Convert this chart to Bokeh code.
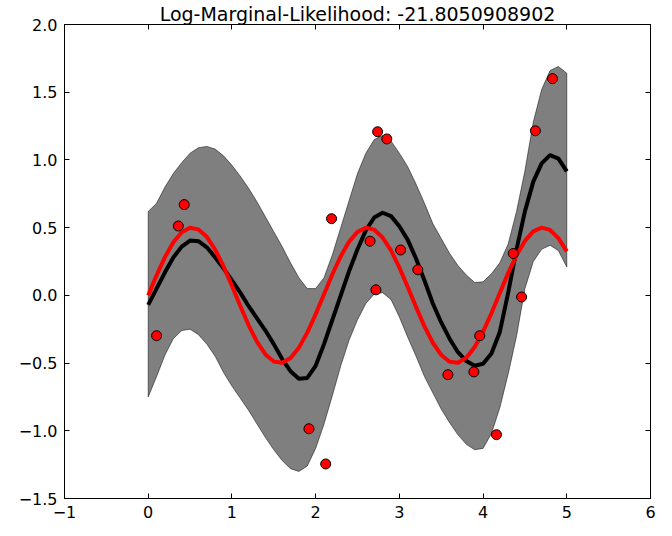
from bokeh.plotting import figure
from bokeh.models import Range1d, LinearAxis, FixedTicker, CustomJSTickFormatter
from bokeh.embed import file_html
from bokeh.resources import INLINE

# ---- data ----
grid_x = [0.0, 0.1, 0.2, 0.3, 0.4, 0.5, 0.6, 0.7, 0.8, 0.9,
          1.0, 1.1, 1.2, 1.3, 1.4, 1.5, 1.6, 1.7, 1.8, 1.9,
          2.0, 2.1, 2.2, 2.3, 2.4, 2.5, 2.6, 2.7, 2.8, 2.9,
          3.0, 3.1, 3.2, 3.3, 3.4, 3.5, 3.6, 3.7, 3.8, 3.9,
          4.0, 4.1, 4.2, 4.3, 4.4, 4.5, 4.6, 4.7, 4.8, 4.9, 5.0]

mean_y = [-0.07, 0.05, 0.17, 0.28, 0.36, 0.405, 0.40, 0.355, 0.28, 0.20,
          0.11, 0.02, -0.08, -0.17, -0.26, -0.36, -0.47, -0.56, -0.615, -0.61,
          -0.52, -0.36, -0.18, 0.00, 0.18, 0.34, 0.48, 0.575, 0.61, 0.585,
          0.51, 0.41, 0.27, 0.11, -0.06, -0.20, -0.32, -0.42, -0.485, -0.52,
          -0.505, -0.43, -0.27, 0.02, 0.34, 0.62, 0.84, 0.975, 1.035, 1.01, 0.915]

upper_y = [0.62, 0.68, 0.80, 0.90, 0.98, 1.05, 1.09, 1.10, 1.08, 1.03,
           0.96, 0.88, 0.79, 0.69, 0.58, 0.47, 0.36, 0.24, 0.13, 0.05,
           0.05, 0.13, 0.30, 0.50, 0.70, 0.90, 1.05, 1.15, 1.18, 1.14,
           1.05, 0.95, 0.82, 0.68, 0.53, 0.42, 0.31, 0.22, 0.15, 0.095,
           0.10, 0.16, 0.24, 0.38, 0.62, 0.92, 1.28, 1.52, 1.66, 1.69, 1.64]

lower_y = [-0.75, -0.60, -0.44, -0.32, -0.26, -0.25, -0.29, -0.36, -0.45, -0.57,
           -0.67, -0.76, -0.85, -0.95, -1.05, -1.14, -1.22, -1.28, -1.30, -1.26,
           -1.13, -0.95, -0.74, -0.52, -0.33, -0.18, -0.06, 0.01, 0.02, -0.03,
           -0.16, -0.31, -0.45, -0.60, -0.72, -0.84, -0.94, -1.03, -1.10, -1.14,
           -1.13, -1.02, -0.83, -0.58, -0.30, 0.05, 0.25, 0.34, 0.37, 0.33, 0.21]

true_y = [0.000, 0.148, 0.282, 0.392, 0.466, 0.499, 0.487, 0.432, 0.338, 0.214,
          0.071, -0.079, -0.221, -0.344, -0.436, -0.489, -0.498, -0.463, -0.386, -0.275,
          -0.140, 0.008, 0.156, 0.289, 0.397, 0.469, 0.499, 0.485, 0.427, 0.332,
          0.206, 0.062, -0.087, -0.229, -0.350, -0.440, -0.490, -0.497, -0.460, -0.381,
          -0.268, -0.132, 0.017, 0.164, 0.296, 0.402, 0.472, 0.500, 0.483, 0.423, 0.325]

obs_x = [0.10, 0.36, 0.43, 1.92, 2.12, 2.19, 2.65, 2.72, 2.74, 2.85,
         3.015, 3.22, 3.58, 3.89, 3.96, 4.36, 4.16, 4.46, 4.625, 4.83]
obs_y = [-0.298, 0.512, 0.670, -0.985, -1.245, 0.566, 0.400, 0.041, 1.208, 1.155,
         0.335, 0.189, -0.586, -0.565, -0.298, 0.309, -1.029, -0.012, 1.215, 1.600]

x_ticks = [-1, 0, 1, 2, 3, 4, 5, 6]
x_tick_labels = ["\u22121", "0", "1", "2", "3", "4", "5", "6"]
y_ticks = [-1.5, -1.0, -0.5, 0.0, 0.5, 1.0, 1.5, 2.0]
y_tick_labels = ["\u22121.5", "\u22121.0", "\u22120.5", "0.0", "0.5", "1.0", "1.5", "2.0"]

title_text = "Log-Marginal-Likelihood: -21.8050908902"

FONT = "DejaVu Sans"

p = figure(width=656, height=520,
           x_range=Range1d(-1, 6), y_range=Range1d(-1.5, 2.0),
           output_backend="svg", toolbar_location=None,
           min_border_left=64, min_border_right=6, min_border_top=0, min_border_bottom=2)

p.title.text = title_text
p.title.align = "center"
p.title.text_font = FONT
p.title.text_font_size = "19px"
p.title.text_font_style = "normal"
p.title.text_color = "black"
p.title.standoff = 0

p.xgrid.visible = False
p.ygrid.visible = False
p.outline_line_color = "black"
p.outline_line_width = 1
p.background_fill_color = "white"
p.border_fill_color = "white"

band_xs = grid_x + grid_x[::-1]
band_ys = upper_y + lower_y[::-1]
p.patch(band_xs, band_ys, fill_color="black", fill_alpha=0.5,
        line_color="black", line_alpha=0.5, line_width=1)

p.line(grid_x, mean_y, line_color="black", line_width=4, line_join="round")
p.line(grid_x, true_y, line_color="red", line_width=4, line_join="round")
p.scatter(obs_x, obs_y, size=10, fill_color="red", line_color="black", line_width=1)


def style_axis(ax, ticks):
    ax.ticker = FixedTicker(ticks=ticks)
    ax.major_tick_in = 5
    ax.major_tick_out = 0
    ax.minor_tick_line_color = None
    ax.axis_line_color = "black"
    ax.major_tick_line_color = "black"
    ax.major_label_text_font = FONT
    ax.major_label_text_font_size = "16px"
    ax.major_label_text_color = "black"
    ax.major_label_standoff = 7


style_axis(p.xaxis[0], x_ticks)
p.xaxis[0].major_label_overrides = dict(zip(x_ticks, x_tick_labels))
style_axis(p.yaxis[0], y_ticks)
p.yaxis[0].major_label_overrides = dict(zip(y_ticks, y_tick_labels))

blank = CustomJSTickFormatter(code="return ''")
top_axis = LinearAxis(formatter=blank)
style_axis(top_axis, x_ticks)
top_axis.major_label_standoff = 0
top_axis.major_label_text_font_size = "1px"
right_axis = LinearAxis(formatter=blank)
style_axis(right_axis, y_ticks)
right_axis.major_label_standoff = 0
right_axis.major_label_text_font_size = "1px"
p.add_layout(top_axis, "above")
p.add_layout(right_axis, "right")

open("out.html", "w").write(file_html(p, INLINE))
